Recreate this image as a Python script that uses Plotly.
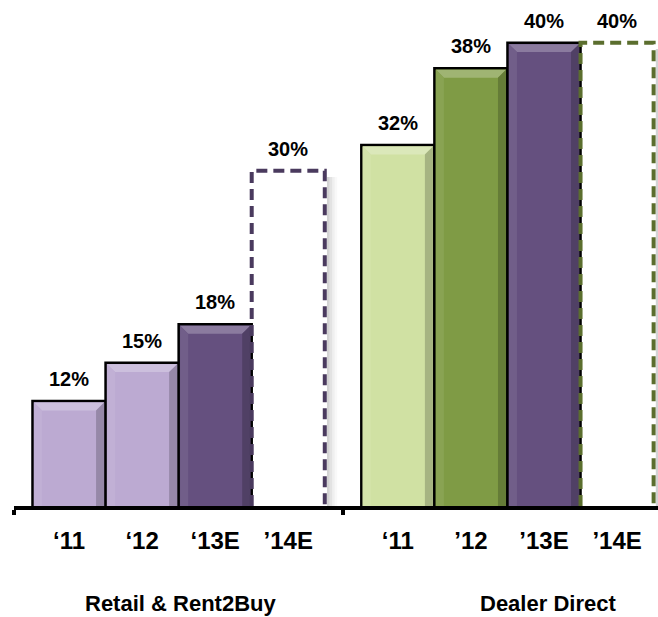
import plotly.graph_objects as go

# ---- data ----
group_names = ["Retail & Rent2Buy", "Dealer Direct"]
retail_years = ["\u201811", "\u201812", "\u201813E", "\u201914E"]
dealer_years = ["\u201811", "\u201912", "\u201913E", "\u201914E"]
retail_values = [12, 15, 18, 30]
dealer_values = [32, 38, 40, 40]
retail_colors = ["#BCAAD2", "#BCAAD2", "#65507F"]
dealer_colors = ["#D0E1A3", "#7F9B45", "#65507F"]
retail_dash_color = "#4A3A5E"
dealer_dash_color = "#5B6E2E"

# ---- layout / style helpers ----
GROUP_GAP = 0.5
Y_MIN = 3.8
Y_MAX = 43.33
FONT = "Liberation Sans, Arial, sans-serif"
BEV_X = 0.11   # bevel width in x units (~8px)
BEV_Y = 0.62   # bevel height in y units (~8px)

retail_pos = [i for i in range(len(retail_values))]
dealer_pos = [len(retail_values) + GROUP_GAP + i for i in range(len(dealer_values))]


def shade(hex_color, f):
    h = hex_color.lstrip("#")
    r, g, b = int(h[0:2], 16), int(h[2:4], 16), int(h[4:6], 16)
    if f >= 0:
        r, g, b = [int(c + (255 - c) * f) for c in (r, g, b)]
    else:
        r, g, b = [int(c * (1 + f)) for c in (r, g, b)]
    return f"rgb({r},{g},{b})"


fig = go.Figure()


def poly(xs, ys, color, opacity=1.0):
    fig.add_trace(go.Scatter(
        x=xs + [xs[0]], y=ys + [ys[0]], mode="lines", fill="toself",
        fillcolor=color, line=dict(width=0, color=color), opacity=opacity,
        showlegend=False, hoverinfo="skip",
    ))


def add_group(pos, vals, colors, dash_color):
    # solid (actual) bars
    fig.add_trace(go.Bar(
        x=pos[:-1], y=vals[:-1], width=1.0,
        marker=dict(color=colors, line=dict(color="black", width=2.5)),
        showlegend=False, hoverinfo="skip",
    ))
    # bevel decoration on solid bars
    for p, v, c in zip(pos[:-1], vals[:-1], colors):
        x0, x1, y1 = p - 0.5 + 0.02, p + 0.5 - 0.02, v - 0.12
        poly([x0, x1, x1 - BEV_X, x0 + BEV_X], [y1, y1, y1 - BEV_Y, y1 - BEV_Y], shade(c, 0.25))
        poly([x0, x0 + BEV_X, x0 + BEV_X, x0], [y1, y1 - BEV_Y, Y_MIN, Y_MIN], shade(c, 0.08))
        poly([x1, x1 - BEV_X, x1 - BEV_X, x1], [y1, y1 - BEV_Y, Y_MIN, Y_MIN], shade(c, -0.2))
    # dashed (estimate) bar: soft shadow then outline
    p, v = pos[-1], vals[-1]
    for k, op in enumerate([0.35, 0.22, 0.12, 0.05]):
        xa = p + 0.5 + 0.03 + k * 0.035
        poly([xa, xa + 0.035, xa + 0.035, xa], [v - 0.5, v - 0.5, Y_MIN, Y_MIN], "#808080", op)
    fig.add_trace(go.Scatter(
        x=[p - 0.5, p - 0.5, p + 0.5, p + 0.5],
        y=[Y_MIN, v, v, Y_MIN],
        mode="lines",
        line=dict(color=dash_color, width=4, dash="11px,6px"),
        showlegend=False, hoverinfo="skip",
    ))
    for xp, val in zip(pos, vals):
        fig.add_annotation(
            x=xp, y=val, text=f"<b>{val}%</b>", showarrow=False,
            yanchor="bottom", yshift=9,
            font=dict(family=FONT, size=20, color="black"),
        )


add_group(retail_pos, retail_values, retail_colors, retail_dash_color)
add_group(dealer_pos, dealer_values, dealer_colors, dealer_dash_color)

group_centers = [1.52, 6.555]
for name, gx in zip(group_names, group_centers):
    fig.add_annotation(
        x=gx, xref="x", y=0, yref="paper", yanchor="middle", yshift=-97,
        text=f"<b>{name}</b>", showarrow=False,
        font=dict(family=FONT, size=22, color="black"),
    )

tick_vals = retail_pos + dealer_pos
tick_text = [f"<b>{t}</b>" for t in retail_years + dealer_years]

fig.update_layout(
    width=658, height=617,
    margin=dict(l=14, r=0, t=0, b=111),
    paper_bgcolor="white", plot_bgcolor="white",
    barmode="overlay",
    xaxis=dict(
        range=[-0.753, 8.06], tickvals=tick_vals, ticktext=tick_text,
        showline=True, linecolor="black", linewidth=4, showgrid=False,
        zeroline=False, ticks="", ticklabelstandoff=10,
        tickfont=dict(family=FONT, size=24, color="black"),
        minor=dict(tickvals=[-0.75, 3.75], ticks="outside", ticklen=5,
                   tickwidth=4, tickcolor="black", showgrid=False),
    ),
    yaxis=dict(range=[Y_MIN, Y_MAX], visible=False),
)

fig.write_html("out.html")
